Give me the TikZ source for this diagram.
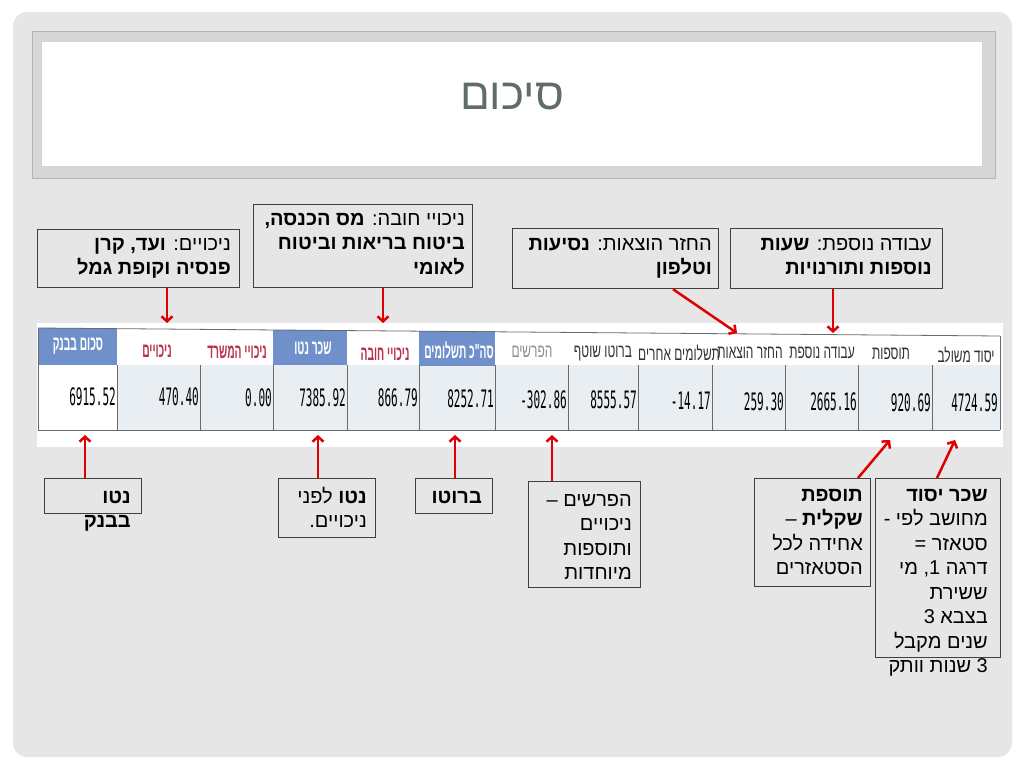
\documentclass[tikz,border=0pt]{standalone}
\usepackage{fontspec}
\setmainfont{Liberation Sans}
\newfontfamily\hebfont[Script=Hebrew]{Liberation Sans}
\newfontfamily\tabfont[Script=Hebrew,FakeStretch=0.63]{Liberation Sans}
\newfontfamily\tabfontb[Script=Hebrew,FakeStretch=0.5]{Liberation Sans}
\newfontfamily\numfont[FakeStretch=0.46]{DejaVu Sans Mono}
\TeXXeTstate=1
\usetikzlibrary{arrows.meta}
\definecolor{slidebg}{HTML}{E6E6E6}
\definecolor{frameband}{HTML}{D6D6D6}
\definecolor{frameline}{HTML}{B4B4B4}
\definecolor{titlecol}{HTML}{5E6E66}
\definecolor{hdrblue}{HTML}{7090CC}
\definecolor{cellbg}{HTML}{E8EEF2}
\definecolor{hdrred}{HTML}{B8304C}
\definecolor{hdrgray}{HTML}{8C8C8C}
\definecolor{gridcol}{HTML}{6A6A6A}
\definecolor{arrred}{HTML}{E00000}
\definecolor{boxline}{HTML}{404040}
\newcommand\RL[1]{\beginR\strut#1\endR}
\begin{document}
\begin{tikzpicture}[x=1pt,y=-1pt,
  box/.style={draw=boxline,fill=slidebg,line width=1.2pt,inner sep=0,anchor=north west},
  txt/.style={inner sep=0,align=right,anchor=north east,font=\hebfont\fontsize{20}{24.5}\selectfont,text=black},
  hdr/.style={inner sep=0,font=\tabfont\fontsize{19}{20}\selectfont},
  hdrb/.style={inner sep=0,font=\tabfontb\bfseries\fontsize{20.5}{22}\selectfont},
  num/.style={inner sep=0,anchor=east,font=\numfont\fontsize{24}{26}\selectfont},
  grid/.style={draw=gridcol,line width=0.8pt},
  arr/.style={draw=arrred,line width=2.5pt,-{Straight Barb[length=5pt,width=11pt]}}]
\useasboundingbox (0,0) rectangle (1024,768);
\fill[white] (0,0) rectangle (1024,768);
\fill[slidebg,rounded corners=14pt] (13,12) rectangle (1012,757);
% title frame
\filldraw[fill=frameband,draw=frameline,line width=1pt] (32,32) rectangle (995,178);
\fill[white] (42,42) rectangle (982,166);
\node[font=\hebfont\fontsize{44}{50}\selectfont,text=titlecol,inner sep=0] (title) at (512,97) {\beginR סיכום\endR};
% table
\fill[white] (37,323) rectangle (1003,447);
\fill[cellbg] (117,365) rectangle (1000,430);
\fill[hdrblue] (38,328) rectangle (117,365);
\fill[hdrblue] (273,330) rectangle (347,365);
\fill[hdrblue] (419,331) rectangle (495,366);
\draw[grid] (38,328) -- (1000,336);
\draw[grid] (38,430) -- (1000,430);
\draw[grid] (38,328) -- (38,430);
\draw[grid] (1000,336) -- (1000,430);
\foreach \xx in {117,200,273,347,419,495,568,638,712,785,858,932}
  \draw[grid,line width=0.6pt] (\xx,365) -- (\xx,430);
% headers
\node[hdrb,text=white] (h1) at (78,346) {\beginR סכום בבנק\endR};
\node[hdrb,text=hdrred] (h2) at (157,351) {\beginR ניכויים\endR};
\node[hdrb,text=hdrred] (h3) at (237,352) {\beginR ניכויי המשרד\endR};
\node[hdrb,text=white] (h4) at (313,348) {\beginR שכר נטו\endR};
\node[hdrb,text=hdrred] (h5) at (385,354) {\beginR ניכויי חובה\endR};
\node[hdrb,text=white] (h6) at (459,350) {\beginR סה"כ תשלומים\endR};
\node[hdr,text=hdrgray] (h7) at (532,352) {\beginR הפרשים\endR};
\node[hdr,text=black!80] (h8) at (603,353) {\beginR ברוטו שוטף\endR};
\node[hdr,text=black!80] (h9) at (679,353) {\beginR תשלומים אחרים\endR};
\node[hdr,text=black!80] (h10) at (750,353) {\beginR החזר הוצאות\endR};
\node[hdr,text=black!80] (h11) at (822,353) {\beginR עבודה נוספת\endR};
\node[hdr,text=black!80] (h12) at (891,354) {\beginR תוספות\endR};
\node[hdr,text=black!80] (h13) at (966,355) {\beginR יסוד משולב\endR};
% values
\node[num] (v1) at (116,397) {6915.52};
\node[num] (v2) at (199,397) {470.40};
\node[num] (v3) at (272,398) {0.00};
\node[num] (v4) at (346,398) {7385.92};
\node[num] (v5) at (418,398) {866.79};
\node[num] (v6) at (494,399) {8252.71};
\node[num] (v7) at (567,400) {-302.86};
\node[num] (v8) at (637,400) {8555.57};
\node[num] (v9) at (711,401) {-14.17};
\node[num] (v10) at (784,402) {259.30};
\node[num] (v11) at (857,402) {2665.16};
\node[num] (v12) at (931,403) {920.69};
\node[num] (v13) at (998,403) {4724.59};
% top boxes
\node[box,minimum width=202,minimum height=58] (A) at (37,229) {};
\node[txt] (At) at (231,233) {\RL{ניכויים\kern0pt: \textbf{ועד\kern0pt, קרן}}\\\RL{\textbf{פנסיה וקופת גמל}}};
\node[box,minimum width=219,minimum height=83] (B) at (253,204) {};
\node[txt] (Bt) at (465,208) {\RL{ניכויי חובה\kern0pt: \textbf{מס הכנסה\kern0pt,}}\\\RL{\textbf{ביטוח בריאות וביטוח}}\\\RL{\textbf{לאומי}}};
\node[box,minimum width=206,minimum height=60] (C) at (512,228) {};
\node[txt] (Ct) at (712,233) {\RL{החזר הוצאות\kern0pt: \textbf{נסיעות}}\\\RL{\textbf{וטלפון}}};
\node[box,minimum width=212,minimum height=60] (D) at (730,228) {};
\node[txt] (Dt) at (932,233) {\RL{עבודה נוספת\kern0pt: \textbf{שעות}}\\\RL{\textbf{נוספות ותורנויות}}};
% bottom boxes
\node[box,minimum width=97,minimum height=35] (E) at (44,478) {};
\node[txt] (Et) at (131,486) {\RL{\textbf{נטו}}\\\RL{\textbf{בבנק}}};
\node[box,minimum width=97,minimum height=59] (F) at (278,478) {};
\node[txt] (Ft) at (367,486) {\RL{\textbf{נטו} לפני}\\\RL{ניכויים\kern0pt.}};
\node[box,minimum width=77,minimum height=35] (G) at (415,478) {};
\node[txt] (Gt) at (482,486) {\RL{\textbf{ברוטו}}};
\node[box,minimum width=112,minimum height=106] (H) at (528,481) {};
\node[txt] (Ht) at (632,489) {\RL{הפרשים –}\\\RL{ניכויים}\\\RL{ותוספות}\\\RL{מיוחדות}};
\node[box,minimum width=116,minimum height=108] (I) at (754,478) {};
\node[txt] (It) at (863,484) {\RL{\textbf{תוספת}}\\\RL{\textbf{שקלית} –}\\\RL{אחידה לכל}\\\RL{הסטאזרים}};
\node[box,minimum width=125,minimum height=179] (J) at (875,478) {};
\node[txt] (Jt) at (988,484) {\RL{\textbf{שכר יסוד}}\\\RL{מחושב לפי -}\\\RL{סטאזר =}\\\RL{דרגה 1\kern0pt, מי}\\\RL{ששירת}\\\RL{בצבא 3}\\\RL{שנים מקבל}\\\RL{3 שנות וותק}};
% arrow tips
\coordinate (tA) at (167,323);
\coordinate (tB) at (383,323);
\coordinate (sC) at (673,288);
\coordinate (tC) at (737,333);
\coordinate (tD) at (833,333);
\coordinate (tE) at (85,435);
\coordinate (tF) at (318,435);
\coordinate (tG) at (455,435);
\coordinate (tH) at (552,435);
\coordinate (sI) at (858,478);
\coordinate (tI) at (890,440);
\coordinate (sJ) at (937,478);
\coordinate (tJ) at (955,440);
\draw[arr] (A.south -| tA) -- (tA);
\draw[arr] (B.south -| tB) -- (tB);
\draw[arr] (C.south -| sC) -- (tC);
\draw[arr] (D.south -| tD) -- (tD);
\draw[arr] (E.north -| tE) -- (tE);
\draw[arr] (F.north -| tF) -- (tF);
\draw[arr] (G.north -| tG) -- (tG);
\draw[arr] (H.north -| tH) -- (tH);
\draw[arr] (I.north -| sI) -- (tI);
\draw[arr] (J.north -| sJ) -- (tJ);
\end{tikzpicture}
\end{document}
